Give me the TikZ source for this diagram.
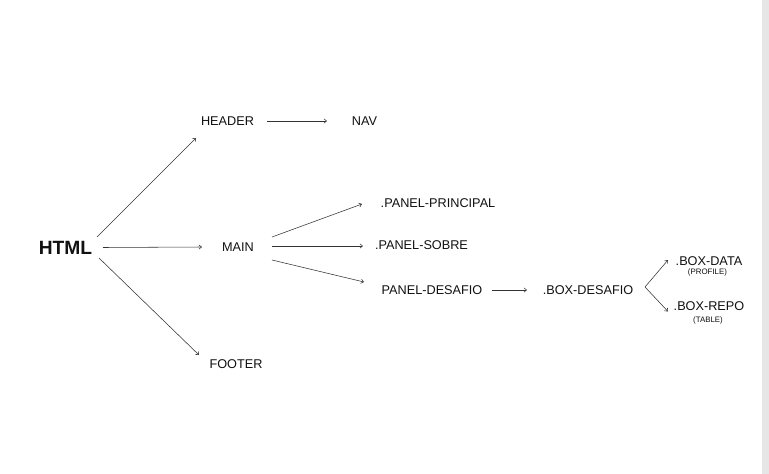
\documentclass[tikz,border=0pt]{standalone}
\usepackage{fontspec}
\setmainfont{Liberation Sans}
\usetikzlibrary{arrows.meta,calc}
\definecolor{ink}{HTML}{111111}
\definecolor{linec}{HTML}{333333}
\definecolor{strip}{HTML}{E6E6E6}
\tikzset{
  lbl/.style={inner sep=0pt, anchor=center, text=ink, font=\fontsize{12.7}{14}\selectfont},
  big/.style={lbl, font=\fontsize{19.2}{22}\selectfont\bfseries},
  tiny/.style={lbl, font=\fontsize{7.9}{9}\selectfont},
  arr/.style={draw=linec, line width=0.55pt, -{Straight Barb[length=2.6pt,width=4.2pt,line width=0.55pt]}}
}
\begin{document}
\begin{tikzpicture}[x=1pt,y=-1pt]
\useasboundingbox (0,0) rectangle (769,474);
\fill[white] (0,0) rectangle (762,474);
\fill[strip] (762,0) rectangle (769,474);

\node[big] (html) at (65.5,248) {HTML};
\node[lbl] (header) at (227.5,121) {HEADER};
\node[lbl] (nav) at (364.5,121) {NAV};
\node[lbl] (main) at (238,247.5) {MAIN};
\node[lbl] (footer) at (236,364) {FOOTER};
\node[lbl] (principal) at (438,203) {.PANEL-PRINCIPAL};
\node[lbl] (sobre) at (421.5,245) {.PANEL-SOBRE};
\node[lbl] (desafio) at (432,290) {PANEL-DESAFIO};
\node[lbl] (boxdesafio) at (588,290) {.BOX-DESAFIO};
\node[lbl] (boxdata) at (709,261) {.BOX-DATA};
\node[tiny] (profile) at (707.5,272.5) {(PROFILE)};
\node[lbl] (boxrepo) at (709,306) {.BOX-REPO};
\node[tiny] (table) at (708,320.5) {(TABLE)};

\draw[arr] ($(html)+(31.5,-11)$) -- ($(header)+(-31.5,17)$);
\draw[arr] ($(html)+(37.5,-0.5)$) -- ($(main)+(-36,-0.5)$);
\draw[arr] ($(html)+(33.5,10)$) -- ($(footer)+(-37,-9)$);
\draw[arr] ($(header)+(39.5,0)$) -- ($(nav)+(-37.5,0)$);
\draw[arr] ($(main)+(34,-10.5)$) -- ($(principal)+(-76,1)$);
\draw[arr] ($(main)+(34,-1.5)$) -- ($(sobre)+(-58.5,1)$);
\draw[arr] ($(main)+(34,12.5)$) -- ($(desafio)+(-68,-8)$);
\draw[arr] ($(desafio)+(60,0)$) -- ($(boxdesafio)+(-61,0)$);
\draw[arr] ($(boxdesafio)+(57,-3)$) -- ($(boxdata)+(-41,-1)$);
\draw[arr] ($(boxdesafio)+(57,-3)$) -- ($(boxrepo)+(-41,5.5)$);
\end{tikzpicture}
\end{document}
